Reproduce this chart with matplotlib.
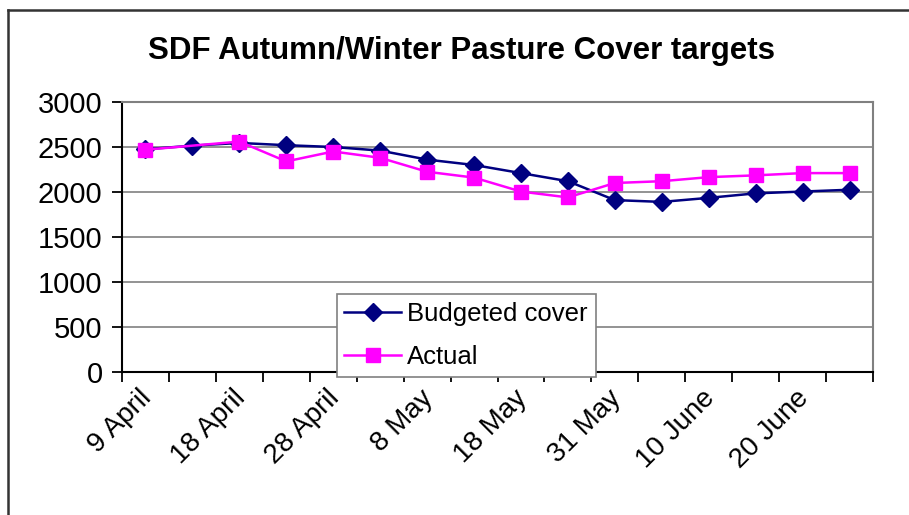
import matplotlib
matplotlib.use('Agg')
import matplotlib.pyplot as plt
import numpy as np
from matplotlib.lines import Line2D

# Data (16 weekly-ish points, every 2nd one labelled)
tick_labels = ['9 April', '18 April', '28 April', '8 May', '18 May',
               '31 May', '10 June', '20 June']
budgeted = [2475, 2515, 2545, 2520, 2500, 2460, 2360, 2300,
            2210, 2120, 1910, 1890, 1935, 1985, 2005, 2025]
actual = [2470, np.nan, 2560, 2340, 2450, 2380, 2225, 2160,
          2005, 1940, 2100, 2120, 2165, 2185, 2210, 2210]

plt.rcParams['font.family'] = ['Liberation Sans', 'DejaVu Sans']

x = np.arange(len(budgeted))
act = np.array(actual, dtype=float)
ok = ~np.isnan(act)

fig = plt.figure(figsize=(9.09, 5.15), dpi=100)
ax = fig.add_axes([122 / 909, 1 - 372 / 515, 751 / 909, 270 / 515])

ax.plot(x, budgeted, color='#000080', lw=1.8, marker='D', ms=9,
        label='Budgeted cover', zorder=3)
ax.plot(x[ok], act[ok], color='#FF00FF', lw=1.8, marker='s', ms=10,
        label='Actual', zorder=4)

ax.set_ylim(0, 3000)
ax.set_yticks(range(0, 3001, 500))
ax.set_xlim(-0.5, len(budgeted) - 0.5)
ax.grid(True, axis='y', color='#808080', lw=1.2)
ax.set_axisbelow(True)

# category ticks sit between the points, labels under every second point
ax.set_xticks(np.arange(-0.5, len(budgeted)))
ax.set_xticklabels([])
ax.tick_params(axis='x', direction='out', length=7, width=1.3, color='black')
ax.tick_params(axis='y', direction='out', length=7, width=1.3, color='black',
               labelsize=21, pad=7)
for i, lab in enumerate(tick_labels):
    ax.text(2 * i + 0.05, -245, lab, rotation=45, ha='right', va='center',
            rotation_mode='anchor', fontsize=20)

for s in ['left', 'bottom']:
    ax.spines[s].set_color('black')
    ax.spines[s].set_linewidth(1.5)
for s in ['top', 'right']:
    ax.spines[s].set_color('#808080')
    ax.spines[s].set_linewidth(1.5)

fig.text(0.508, 0.901, 'SDF Autumn/Winter Pasture Cover targets',
         ha='center', va='center', fontsize=22.5, fontweight='bold')

leg = ax.legend(loc='upper left', bbox_to_anchor=(0.286, 0.289),
                borderaxespad=0, fontsize=18.5, frameon=True, fancybox=False,
                edgecolor='#808080', framealpha=1, handlelength=2.2,
                handletextpad=0.25, labelspacing=0.75, borderpad=0.3)
leg.get_frame().set_linewidth(1.2)
leg.set_zorder(10)

# outer chart border (only left and top visible in the crop)
fig.add_artist(Line2D([8 / 909, 8 / 909], [0, 1 - 10 / 515],
                      transform=fig.transFigure, color='#333333', lw=1.8))
fig.add_artist(Line2D([8 / 909, 1], [1 - 10 / 515, 1 - 10 / 515],
                      transform=fig.transFigure, color='#333333', lw=1.8))

fig.savefig('out.png', dpi=100)
